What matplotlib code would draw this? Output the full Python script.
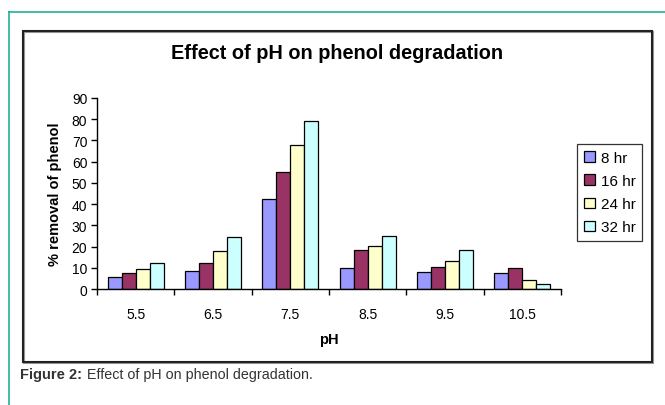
import numpy as np
import matplotlib.pyplot as plt
from matplotlib.patches import Rectangle
from matplotlib.lines import Line2D

plt.rcParams['font.family'] = ['Liberation Sans', 'DejaVu Sans']

ph_labels = ['5.5', '6.5', '7.5', '8.5', '9.5', '10.5']
series_names = ['8 hr', '16 hr', '24 hr', '32 hr']
removal_8hr = [5.5, 8.6, 42.2, 9.7, 8.2, 7.7]
removal_16hr = [7.5, 12.2, 54.9, 18.4, 10.2, 9.7]
removal_24hr = [9.3, 17.9, 67.9, 20.1, 13.3, 4.4]
removal_32hr = [12.2, 24.6, 79.2, 24.8, 18.4, 2.4]
colors = ['#9999FF', '#993366', '#FFFFCC', '#CCFFFF']

W, H = 665, 406
fig = plt.figure(figsize=(W / 100, H / 100), dpi=100)

# outer teal frame (top and left lines)
fig.add_artist(Line2D([9 / W, 1], [1 - 13 / H, 1 - 13 / H], transform=fig.transFigure, color='#20B09A', lw=1.2))
fig.add_artist(Line2D([9 / W, 9 / W], [0, 1 - 13 / H], transform=fig.transFigure, color='#20B09A', lw=1.2))

# chart frame with slight shadow
fig.add_artist(Rectangle((23.5 / W, 1 - 363.5 / H), 629 / W, 331 / H, transform=fig.transFigure,
                         fill=False, edgecolor='#999999', lw=1.5))
fig.add_artist(Rectangle((22.5 / W, 1 - 362.5 / H), 629 / W, 331 / H, transform=fig.transFigure,
                         fill=False, edgecolor='#222222', lw=1.5))

ax = fig.add_axes([97 / W, 1 - 290 / H, 464 / W, 191 / H])

x = np.arange(len(ph_labels))
bw = 0.18
all_series = [removal_8hr, removal_16hr, removal_24hr, removal_32hr]
for i, (vals, name, c) in enumerate(zip(all_series, series_names, colors)):
    ax.bar(x + (i - 1.5) * bw, vals, width=bw, color=c, edgecolor='black', linewidth=0.9, label=name)

ax.set_xlim(-0.5, len(ph_labels) - 0.5)
ax.set_ylim(0, 90)
ax.set_yticks(range(0, 91, 10))
ax.set_xticks(np.arange(-0.5, len(ph_labels), 1.0))
ax.set_xticklabels([])
ax.set_xticks(x, minor=True)
ax.set_xticklabels(ph_labels, minor=True)
ax.tick_params(axis='x', which='minor', length=0, pad=13, labelsize=10)
ax.tick_params(axis='x', which='major', length=4, direction='out', width=1)
ax.tick_params(axis='y', length=4, direction='out', width=1, labelsize=10, pad=3)
for s in ['top', 'right']:
    ax.spines[s].set_visible(False)
for s in ['left', 'bottom']:
    ax.spines[s].set_linewidth(1.0)

ax.set_xlabel('pH', fontsize=10.5, fontweight='bold', labelpad=8)
ax.set_ylabel('% removal of phenol', fontsize=10.5, fontweight='bold', labelpad=7)
fig.text(337 / W, 1 - 54 / H, 'Effect of pH on phenol degradation', ha='center', va='center',
         fontsize=14.3, fontweight='bold')

leg = fig.legend(loc='upper left', bbox_to_anchor=(577 / W, 1 - 145 / H), frameon=True, fancybox=False,
                 fontsize=11, handlelength=0.7, handleheight=0.7, handletextpad=0.4,
                 labelspacing=0.6, borderpad=0.45, borderaxespad=0)
leg.get_frame().set_edgecolor('black')
leg.get_frame().set_linewidth(0.9)

fig.text(20 / W, 1 - 375 / H, 'Figure 2:', fontsize=10.5, fontweight='bold', va='center', color='#333333')
fig.text(87 / W, 1 - 375 / H, 'Effect of pH on phenol degradation.', fontsize=10.3, va='center', color='#333333')

fig.savefig('out.png', dpi=100)
